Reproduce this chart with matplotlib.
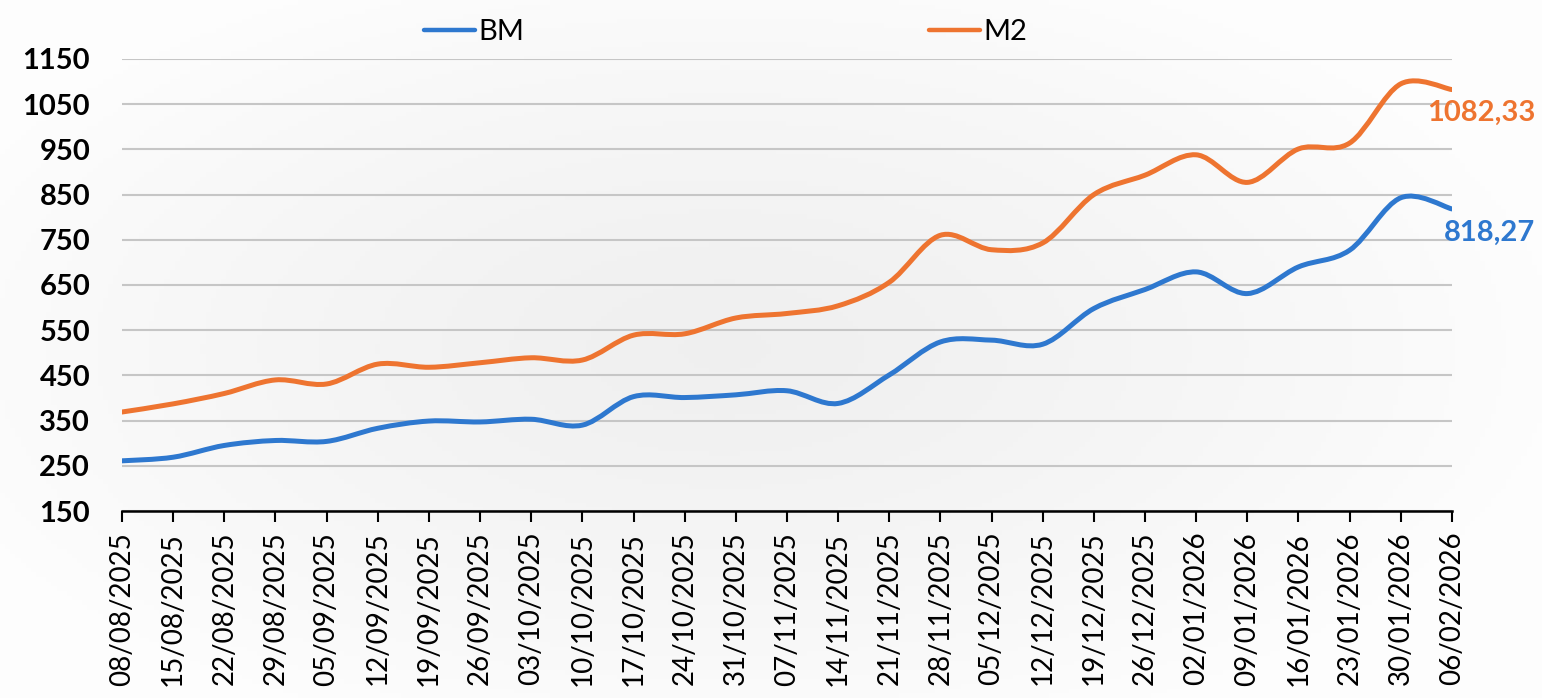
import numpy as np
import matplotlib
matplotlib.use("Agg")
import matplotlib.pyplot as plt
from matplotlib.path import Path
from matplotlib.patches import PathPatch
from matplotlib.lines import Line2D

# Weekly dates (x axis categories)
dates = ["08/08/2025", "15/08/2025", "22/08/2025", "29/08/2025", "05/09/2025",
         "12/09/2025", "19/09/2025", "26/09/2025", "03/10/2025", "10/10/2025",
         "17/10/2025", "24/10/2025", "31/10/2025", "07/11/2025", "14/11/2025",
         "21/11/2025", "28/11/2025", "05/12/2025", "12/12/2025", "19/12/2025",
         "26/12/2025", "02/01/2026", "09/01/2026", "16/01/2026", "23/01/2026",
         "30/01/2026", "06/02/2026"]

# Series values
bm = [261, 269, 295, 306, 304, 333, 349, 347, 353, 340, 403, 401, 407, 416,
      388, 451, 524, 528, 519, 598, 640, 679, 631, 690, 727, 843, 818.27]
m2 = [369, 387, 410, 440, 431, 475, 468, 478, 489, 484, 539, 542, 577, 587,
      604, 656, 760, 728, 743, 850, 893, 938, 877, 951, 964, 1095, 1082.33]

y_ticks = list(range(150, 1151, 100))

BLUE = "#2e78cf"
ORANGE = "#ee7430"


# Smoothed line like Excel: cubic bezier segments through every point
def smooth_path(x, y):
    n = len(x)
    verts = [(x[0], y[0])]
    codes = [Path.MOVETO]
    for i in range(n - 1):
        a = i - 1 if i > 0 else i
        d = i + 2 if i + 2 < n else i + 1
        c1 = (x[i] + (x[i + 1] - x[a]) / 6, y[i] + (y[i + 1] - y[a]) / 6)
        c2 = (x[i + 1] - (x[d] - x[i]) / 6, y[i + 1] - (y[d] - y[i]) / 6)
        verts += [c1, c2, (x[i + 1], y[i + 1])]
        codes += [Path.CURVE4] * 3
    return Path(verts, codes)


def add_background(fig):
    # faint grey glow in the middle, near white at the edges
    bg = fig.add_axes([0, 0, 1, 1], zorder=-10)
    gx, gy = np.meshgrid(np.linspace(0, 1, 300), np.linspace(0, 1, 150))
    r = np.sqrt(((gx - 0.47) / 0.6) ** 2 + ((gy - 0.5) / 0.65) ** 2)
    v = np.clip(0.94 + 0.06 * r ** 1.3, 0, 0.995)
    bg.imshow(np.dstack([v, v, v]), extent=[0, 1, 0, 1], aspect="auto", origin="lower")
    bg.axis("off")


def main():
    plt.rcParams["font.family"] = ["Lato", "DejaVu Sans"]

    fig = plt.figure(figsize=(15.42, 6.98), dpi=100)
    add_background(fig)
    ax = fig.add_axes([0.0791, 0.2679, 0.8625, 0.6476])
    ax.set_facecolor("none")

    x = np.arange(len(dates))
    for vals, color in [(bm, BLUE), (m2, ORANGE)]:
        patch = PathPatch(smooth_path(x, vals), fill=False, edgecolor=color,
                          lw=3.6, capstyle="round", joinstyle="round", zorder=3)
        ax.add_patch(patch)

    ax.set_xlim(0, len(dates) - 1)
    ax.set_ylim(150, 1150)
    ax.set_yticks(y_ticks)
    ax.set_yticklabels([str(t) for t in y_ticks], fontsize=21, fontweight="bold")
    ax.set_xticks(x)
    ax.set_xticklabels(dates, rotation=90, fontsize=20)
    ax.tick_params(axis="y", length=0, pad=23)
    ax.tick_params(axis="x", length=8, width=1.5, pad=7, direction="out")

    ax.yaxis.grid(True, color="#c6c6c6", lw=1.5)
    ax.set_axisbelow(True)
    for side in ["left", "right", "top"]:
        ax.spines[side].set_visible(False)
    ax.spines["bottom"].set_linewidth(1.8)
    ax.spines["bottom"].set_zorder(4)

    # end-of-line value labels
    ax.annotate("818,27", (x[-1], bm[-1]), xytext=(60, -17), textcoords="offset points",
                ha="right", va="center", fontsize=21, fontweight="bold", color=BLUE,
                annotation_clip=False)
    ax.annotate("1082,33", (x[-1], m2[-1]), xytext=(60, -17), textcoords="offset points",
                ha="right", va="center", fontsize=21, fontweight="bold", color=ORANGE,
                annotation_clip=False)

    handles = [Line2D([], [], color=BLUE, lw=3.2, solid_capstyle="round"),
               Line2D([], [], color=ORANGE, lw=3.2, solid_capstyle="round")]
    fig.legend(handles, ["BM", "M2"], ncol=2, loc="center left",
               bbox_to_anchor=(0.275, 0.954), frameon=False, fontsize=21,
               handlelength=1.75, handletextpad=0.1, columnspacing=13.9,
               borderpad=0, borderaxespad=0)

    fig.savefig("out.png", dpi=100)
    plt.close(fig)


if __name__ == "__main__":
    main()
